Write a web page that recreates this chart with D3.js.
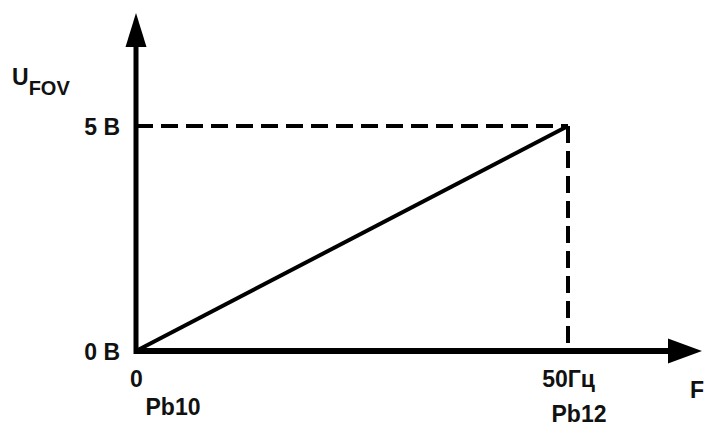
<!DOCTYPE html>
<html>
<head>
<meta charset="utf-8">
<script src="https://cdn.jsdelivr.net/npm/d3@7"></script>
<style>
  body { margin: 0; background: #fff; }
  text { font-family: "Liberation Sans", Arial, sans-serif; font-weight: bold; fill: #111; }
</style>
</head>
<body>
<script>
// data
var freq = [0, 50];          // Hz
var volts = [0, 5];          // V
var xTickLabels = ["0", "50Гц"];
var yTickLabels = ["0 B", "5 B"];
var paramLabels = ["Pb10", "Pb12"];

var width = 706,
    height = 426;

var x = d3.scaleLinear().domain([0, 50]).range([136, 568]);
var y = d3.scaleLinear().domain([0, 5]).range([351, 126]);

var svg = d3.select("body").append("svg")
    .attr("width", width)
    .attr("height", height);

// dashed guides to the end point
var last = freq.length - 1;
svg.append("line")
    .attr("x1", x(0)).attr("y1", y(volts[last]))
    .attr("x2", x(freq[last])).attr("y2", y(volts[last]))
    .attr("stroke", "#000").attr("stroke-width", 4)
    .attr("stroke-dasharray", "17,8");
svg.append("line")
    .attr("x1", x(freq[last])).attr("y1", y(volts[last]))
    .attr("x2", x(freq[last])).attr("y2", y(0))
    .attr("stroke", "#000").attr("stroke-width", 4)
    .attr("stroke-dasharray", "17,8");

// the characteristic
var line = d3.line()
    .x(function(d, i) { return x(freq[i]); })
    .y(function(d, i) { return y(volts[i]); });

svg.append("path")
    .datum(volts)
    .attr("d", line)
    .attr("fill", "none")
    .attr("stroke", "#000")
    .attr("stroke-width", 4);

// axes with arrows
svg.append("line")
    .attr("x1", x(0)).attr("y1", y(0) + 3)
    .attr("x2", x(0)).attr("y2", 30)
    .attr("stroke", "#000").attr("stroke-width", 5);
svg.append("path")
    .attr("d", "M" + x(0) + ",13L" + (x(0) - 10.5) + ",47L" + (x(0) + 10.5) + ",47Z")
    .attr("fill", "#000");

svg.append("line")
    .attr("x1", x(0) - 2).attr("y1", y(0))
    .attr("x2", 685).attr("y2", y(0))
    .attr("stroke", "#000").attr("stroke-width", 6);
svg.append("path")
    .attr("d", "M702," + y(0) + "L668," + (y(0) - 12.5) + "L668," + (y(0) + 12.5) + "Z")
    .attr("fill", "#000");

// y tick labels
var yAxis = d3.axisLeft(y)
    .tickValues(volts)
    .tickSize(0)
    .tickPadding(16)
    .tickFormat(function(d, i) { return yTickLabels[i]; });

var gy = svg.append("g").attr("transform", "translate(" + x(0) + ",0)").call(yAxis);
gy.select(".domain").remove();
gy.selectAll("text")
    .attr("font-size", 23)
    .attr("font-family", null)
    .attr("fill", null)
    .attr("dy", "0.36em");

// x tick labels
var xAxis = d3.axisBottom(x)
    .tickValues(freq)
    .tickSize(0)
    .tickPadding(20)
    .tickFormat(function(d, i) { return xTickLabels[i]; });

var gx = svg.append("g").attr("transform", "translate(0," + y(0) + ")").call(xAxis);
gx.select(".domain").remove();
gx.selectAll("text")
    .attr("font-size", 23)
    .attr("font-family", null)
    .attr("fill", null)
    .attr("dy", "0.71em");

// parameter names under the ticks
svg.selectAll(".param")
    .data(paramLabels)
    .enter().append("text")
    .attr("class", "param")
    .attr("x", function(d, i) { return x(freq[i]) + (i === 0 ? 37 : 11); })
    .attr("y", function(d, i) { return i === 0 ? 415 : 422; })
    .attr("text-anchor", "middle")
    .attr("font-size", 23)
    .text(function(d) { return d; });

// axis titles
var ut = svg.append("text").attr("x", 12).attr("y", 85).attr("font-size", 23);
ut.append("tspan").text("U");
ut.append("tspan").attr("dy", 10).attr("font-size", 20).text("FOV");

svg.append("text")
    .attr("x", 690)
    .attr("y", 398)
    .attr("font-size", 23)
    .text("F");
</script>
</body>
</html>
